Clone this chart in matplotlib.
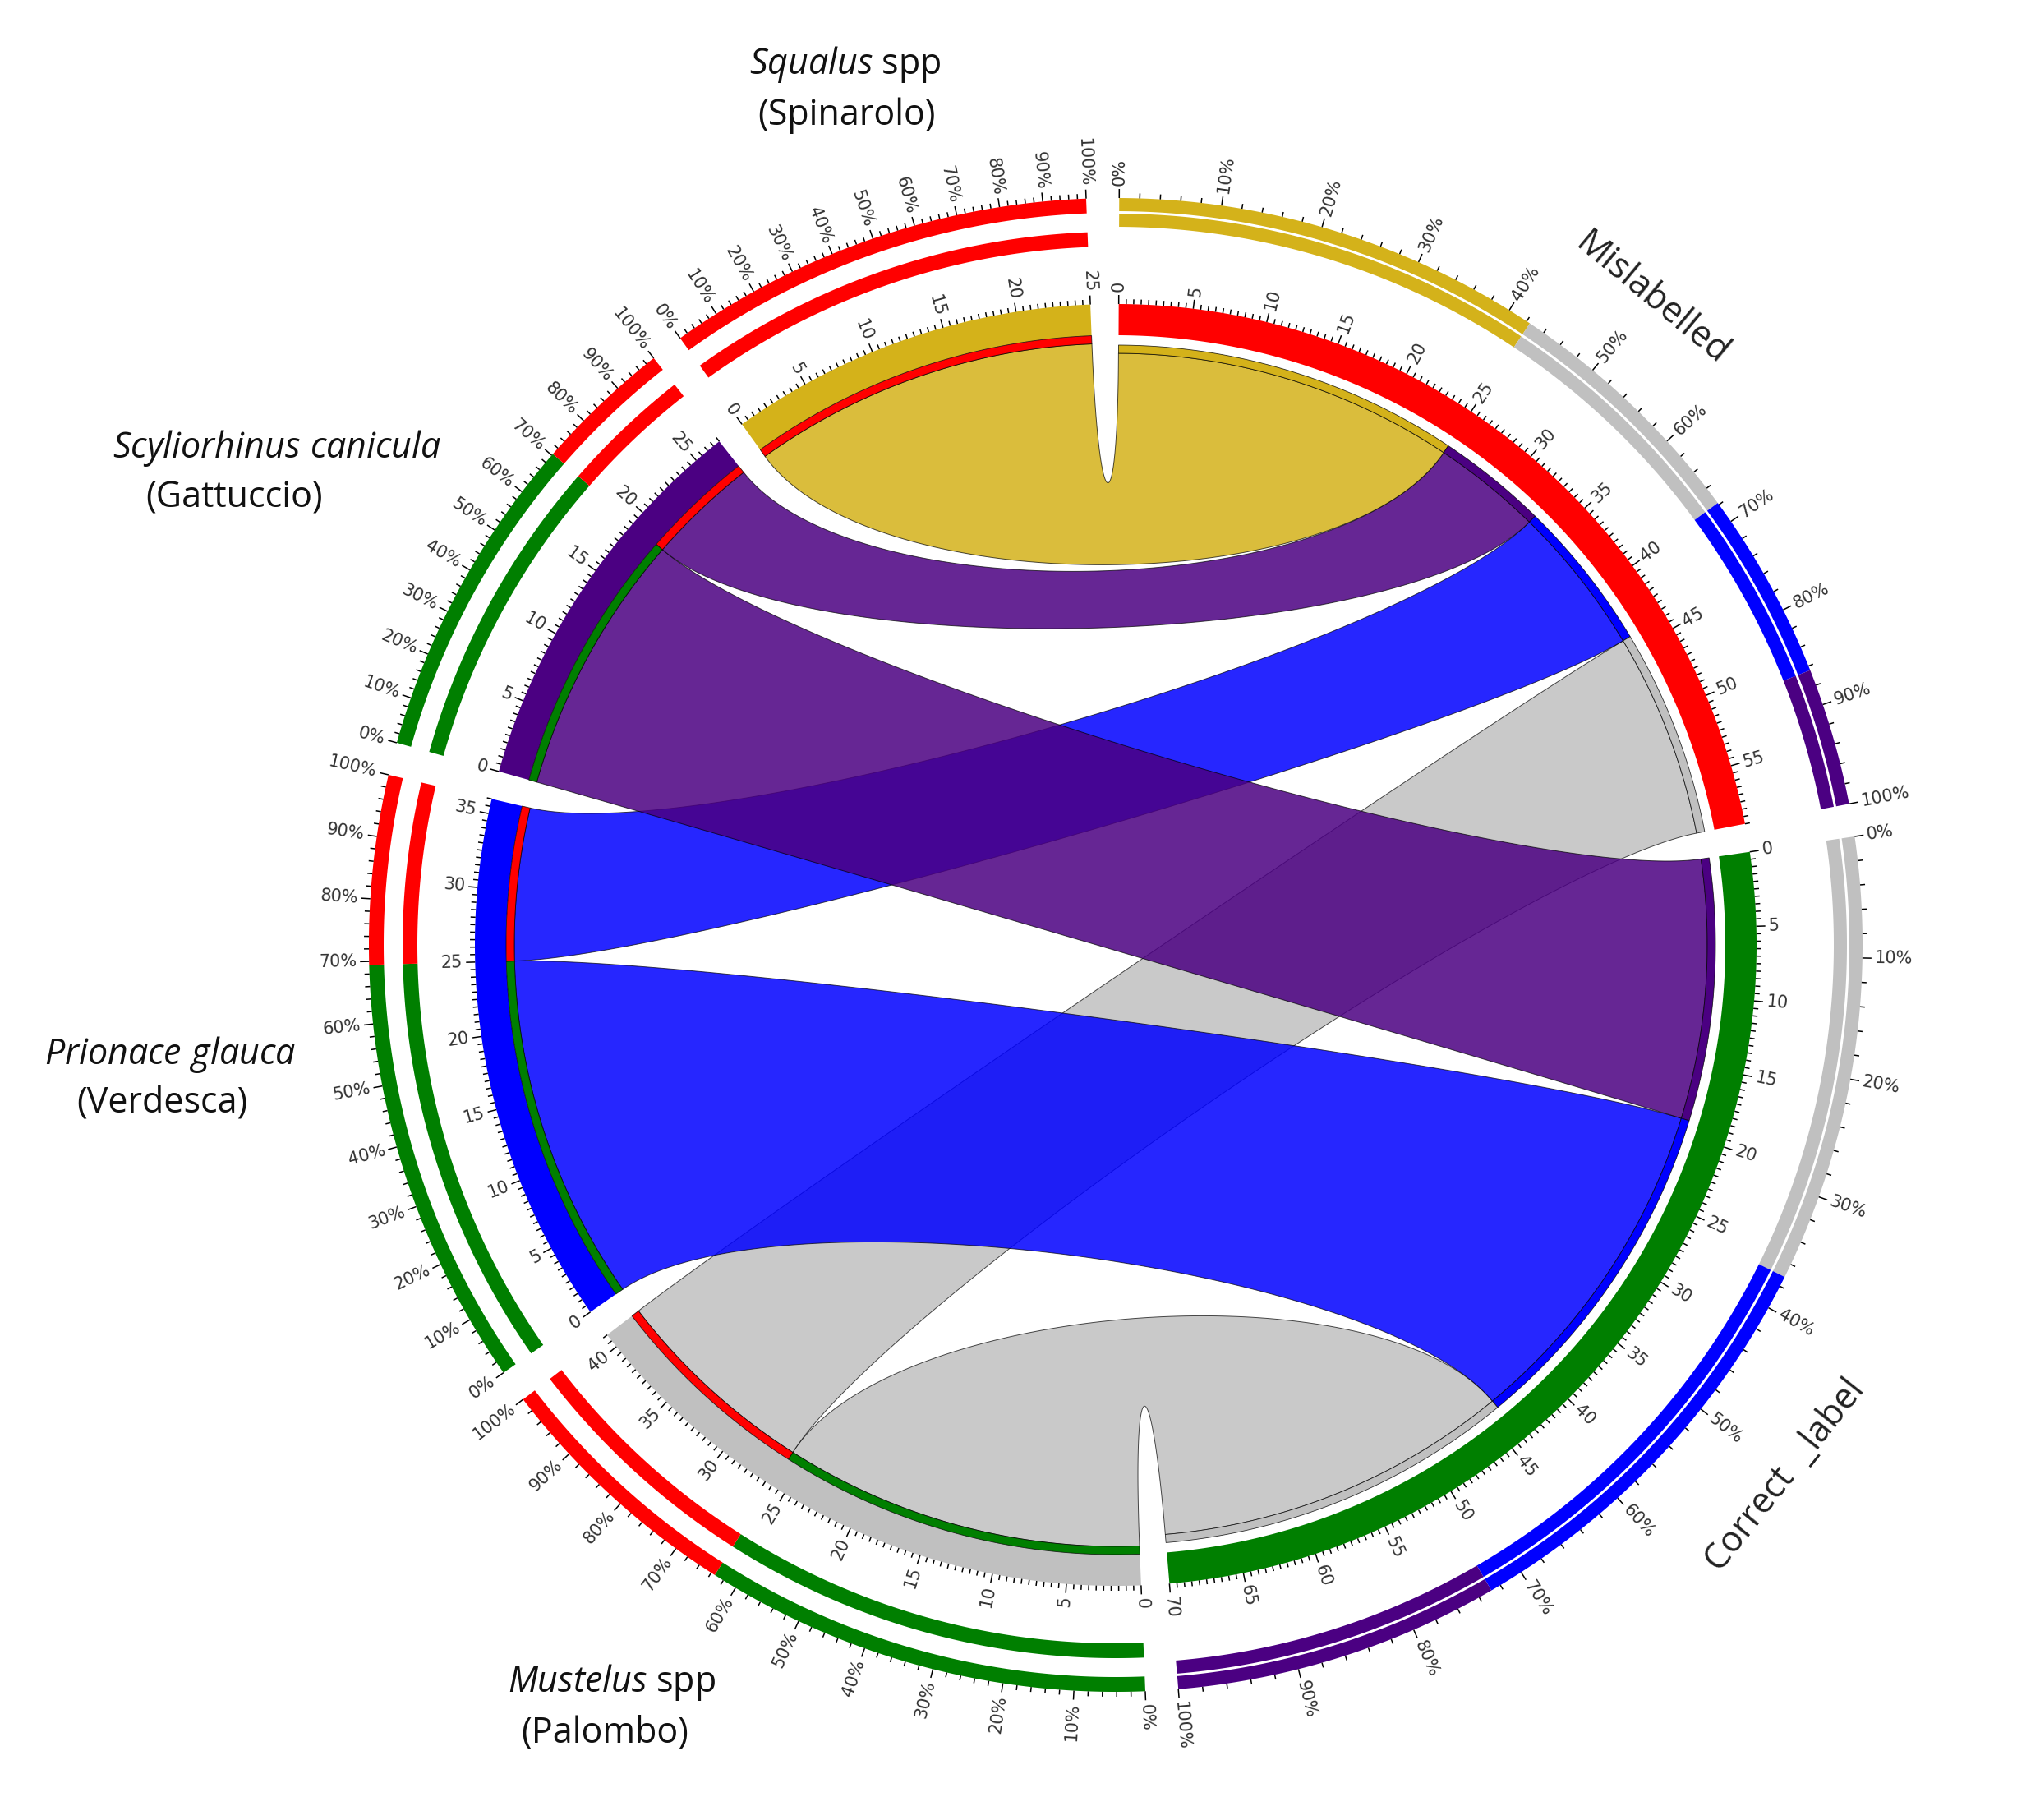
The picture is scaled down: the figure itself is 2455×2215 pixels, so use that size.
import numpy as np
import matplotlib
matplotlib.use("Agg")
import matplotlib.pyplot as plt
from matplotlib.patches import Polygon
from matplotlib.collections import LineCollection
from matplotlib.colors import to_rgba

plt.rcParams['mathtext.fontset'] = 'custom'
plt.rcParams['mathtext.it'] = 'Open Sans:italic'
plt.rcParams['mathtext.rm'] = 'Open Sans'

# ---------------- data ----------------
species_italic = ["Squalus", "Scyliorhinus\\ canicula", "Prionace\\ glauca", "Mustelus"]
species_suffix = [" spp", "", "", " spp"]
common_names = ["(Spinarolo)", "(Gattuccio)", "(Verdesca)", "(Palombo)"]
species_colors = ["#D4B21A", "#4B0082", "#0000FF", "#C0C0C0"]
classes = ["Mislabelled", "Correct  _label"]
class_colors = ["#FF0000", "#007F00"]
mislabelled_n = [25, 8, 11, 15]
correct_n = [0, 19, 25, 26]
percent_ticks = [0, 10, 20, 30, 40, 50, 60, 70, 80, 90, 100]

counts = [[m, c] for m, c in zip(mislabelled_n, correct_n)]  # [row][class]

# ---------------- layout ----------------
W, H = 2455, 2215
fig = plt.figure(figsize=(W / 100, H / 100), dpi=100)
ax = fig.add_axes([0, 0, 1, 1])
ax.set_xlim(0, W)
ax.set_ylim(H, 0)
ax.set_aspect('equal')
ax.axis('off')

CX, CY = 1358, 1150
R_OUT, R_IN = 780, 742
R_ROW_RIB = 732
R_COL_THIN = (720, 730)
R_COL_RIB = 720
ROW_PCT = [(850, 868), (891, 909)]
COL_PCT = [(874, 890), (893, 909)]
K = 0.70
GAP_UNITS = 1.9
OFFSET = -1.0

row_tot = [m + c for m, c in zip(mislabelled_n, correct_n)]
col_tot = [sum(mislabelled_n), sum(correct_n)]
order = [("c", 0), ("c", 1), ("r", 3), ("r", 2), ("r", 1), ("r", 0)]
sizes = {k: (col_tot[k[1]] if k[0] == "c" else row_tot[k[1]]) for k in order}
unit = 360.0 / (sum(sizes.values()) + GAP_UNITS * len(order))
start = {}
a = OFFSET + GAP_UNITS * unit / 2
for k in order:
    start[k] = a
    a += sizes[k] * unit + GAP_UNITS * unit


def ang(k, v):
    return start[k] + v * unit


def P(th, r):
    t = np.radians(th)
    return CX + r * np.sin(t), CY - r * np.cos(t)


def arc(th1, th2, r):
    n = max(int(abs(th2 - th1) * 6) + 2, 4)
    th = np.linspace(th1, th2, n)
    x, y = P(th, r)
    return np.column_stack([x, y])


def band(th1, th2, r1, r2, color, ec='none', lw=0, z=3):
    pts = np.vstack([arc(th1, th2, r2), arc(th2, th1, r1)])
    ax.add_patch(Polygon(pts, closed=True, facecolor=color, edgecolor=ec, lw=lw, zorder=z))


def bez(p0, p1, p2, p3, n=120):
    t = np.linspace(0, 1, n)[:, None]
    return (1 - t) ** 3 * p0 + 3 * (1 - t) ** 2 * t * p1 + 3 * (1 - t) * t ** 2 * p2 + t ** 3 * p3


def pp(th, r):
    return np.array(P(th, r))


def ribbon(a1, a2, ra, b1, b2, rb, color):
    A = arc(a1, a2, ra)
    e1 = bez(pp(a2, ra), pp(a2, K * ra), pp(b1, K * rb), pp(b1, rb))
    B = arc(b1, b2, rb)
    e2 = bez(pp(b2, rb), pp(b2, K * rb), pp(a1, K * ra), pp(a1, ra))
    pts = np.vstack([A, e1, B, e2])
    ax.add_patch(Polygon(pts, closed=True, facecolor=to_rgba(color, 0.85),
                         edgecolor=(0, 0, 0, 0.7), lw=0.7, zorder=2))


def radial_text(th, r, s, size=15, color='#333333'):
    x, y = P(th, r)
    t = th % 360
    phi = 90 - t
    if 0 <= t < 180:
        rot, ha = phi, 'left'
    else:
        rot, ha = phi + 180, 'right'
    rot = (rot + 180) % 360 - 180
    ax.text(x, y, s, rotation=rot, rotation_mode='anchor', ha=ha, va='center',
            fontsize=size, color=color, family='DejaVu Sans', zorder=6)


# ---------------- ribbon intervals ----------------
row_iv, col_iv = {}, {}
for i in range(4):
    pos = 0
    for j in [1, 0]:
        v = counts[i][j]
        if v > 0:
            row_iv[(i, j)] = (pos, pos + v)
            pos += v
for j in range(2):
    pos = 0
    for i in range(4):
        v = counts[i][j]
        if v > 0:
            col_iv[(i, j)] = (pos, pos + v)
            pos += v

# ribbons (Mustelus drawn first, Squalus last)
for i in [3, 2, 1, 0]:
    for j in [1, 0]:
        if (i, j) not in row_iv:
            continue
        r0, r1 = row_iv[(i, j)]
        c0, c1 = col_iv[(i, j)]
        kr, kc = ("r", i), ("c", j)
        ribbon(ang(kr, r0), ang(kr, r1), R_ROW_RIB, ang(kc, c0), ang(kc, c1), R_COL_RIB,
               species_colors[i])

# ---------------- rings ----------------
for k in order:
    t, idx = k
    th0, th1 = ang(k, 0), ang(k, sizes[k])
    col = class_colors[idx] if t == "c" else species_colors[idx]
    band(th0, th1, R_IN, R_OUT, col, z=4)

# thin inner rings
for (i, j), (v0, v1) in row_iv.items():
    band(ang(("r", i), v0), ang(("r", i), v1), R_ROW_RIB, R_IN, class_colors[j],
         ec=(0, 0, 0, 0.8), lw=0.6, z=4)
for (i, j), (v0, v1) in col_iv.items():
    band(ang(("c", j), v0), ang(("c", j), v1), R_COL_THIN[0], R_COL_THIN[1], species_colors[i],
         ec=(0, 0, 0, 0.8), lw=0.6, z=4)

# percent rings
for k in order:
    t, idx = k
    if t == "r":
        parts = [(counts[idx][j], class_colors[j]) for j in [1, 0] if counts[idx][j] > 0]
        radii = ROW_PCT
    else:
        rows_sorted = sorted(range(4), key=lambda i: -counts[i][idx])
        parts = [(counts[i][idx], species_colors[i]) for i in rows_sorted if counts[i][idx] > 0]
        radii = COL_PCT
    for (ra, rb) in radii:
        pos = 0
        for v, c in parts:
            band(ang(k, pos), ang(k, pos + v), ra, rb, c, z=4)
            pos += v

# ---------------- ticks ----------------
segs = []
for k in order:
    size = sizes[k]
    vals = np.arange(0, size + 1e-9, 0.5)
    for v in vals:
        major = abs(v / 5 - round(v / 5)) < 1e-9
        L = 11 if major else 6
        th = ang(k, v)
        segs.append([P(th, R_OUT), P(th, R_OUT + L)])
        if major:
            radial_text(th, R_OUT + 15, "%d" % v)
    # percent ticks
    r_edge = (ROW_PCT if k[0] == "r" else COL_PCT)[1][1]
    for p in range(0, 101, 2):
        th = ang(k, size * p / 100.0)
        L = 11 if p in percent_ticks else 6
        segs.append([P(th, r_edge), P(th, r_edge + L)])
    for p in percent_ticks:
        th = ang(k, size * p / 100.0)
        radial_text(th, r_edge + 15, "%d%%" % p)

ax.add_collection(LineCollection(segs, colors='black', linewidths=1.1, zorder=5))

# ---------------- labels ----------------
for j in range(2):
    k = ("c", j)
    th = ang(k, sizes[k] / 2.0)
    r = 1022 if j == 0 else 1040
    x, y = P(th, r)
    t = th % 360
    rot = -t if (t < 90 or t > 270) else 180 - t
    ax.text(x, y, classes[j], rotation=rot, rotation_mode='anchor', ha='center', va='center',
            fontsize=31, family='Open Sans', color='#222222', zorder=6)

label_pos = [(1029, 78, 1030, 141), (337, 545, 285, 606), (207, 1283, 197, 1342), (744, 2048, 736, 2109)]
for i in range(4):
    x1, y1, x2, y2 = label_pos[i]
    ax.text(x1, y1, r"$\mathit{%s}$%s" % (species_italic[i], species_suffix[i]), ha='center', va='center',
            fontsize=31, family='Open Sans', color='#111111')
    ax.text(x2, y2, common_names[i], ha='center', va='center', fontsize=31, family='Open Sans',
            color='#111111')

fig.savefig("out.png", dpi=100, facecolor='white')
